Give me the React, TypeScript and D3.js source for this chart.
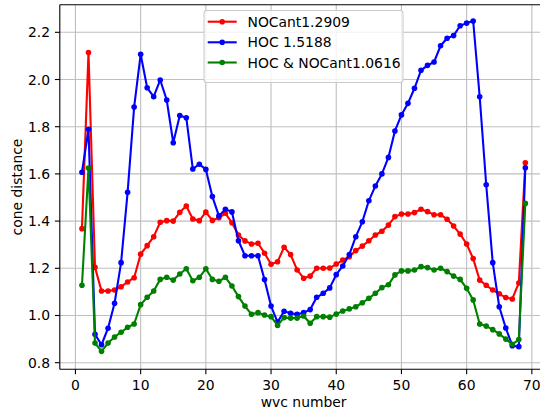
import React from "react";
import * as d3 from "d3";

const wvc: number[] = d3.range(1, 70);

const noCant: number[] = [
  1.368, 2.114, 1.204, 1.104, 1.104, 1.108, 1.122, 1.142, 1.16, 1.26,
  1.296, 1.334, 1.395, 1.402, 1.4, 1.437, 1.464, 1.409, 1.402, 1.438,
  1.403, 1.414, 1.433, 1.393, 1.341, 1.316, 1.303, 1.306, 1.264, 1.217,
  1.228, 1.289, 1.258, 1.193, 1.158, 1.167, 1.2, 1.2, 1.201, 1.218,
  1.235, 1.249, 1.275, 1.294, 1.317, 1.341, 1.357, 1.383, 1.419, 1.43,
  1.43, 1.436, 1.45, 1.44, 1.427, 1.427, 1.408, 1.379, 1.345, 1.303,
  1.241, 1.15, 1.128, 1.108, 1.092, 1.076, 1.07, 1.138, 1.647,
];

const hoc: number[] = [
  1.607, 1.789, 0.92, 0.876, 0.946, 1.052, 1.224, 1.522, 1.883, 2.107,
  1.965, 1.927, 1.998, 1.913, 1.732, 1.847, 1.838, 1.621, 1.641, 1.619,
  1.504, 1.422, 1.45, 1.439, 1.317, 1.253, 1.253, 1.253, 1.152, 1.04,
  0.972, 1.018, 1.009, 1.005, 1.012, 1.025, 1.077, 1.094, 1.117, 1.173,
  1.21, 1.258, 1.334, 1.397, 1.486, 1.549, 1.6, 1.67, 1.782, 1.85,
  1.899, 1.963, 2.039, 2.06, 2.074, 2.143, 2.175, 2.186, 2.228, 2.239,
  2.248, 1.927, 1.554, 1.224, 1.037, 0.947, 0.872, 0.868, 1.626,
];

const hocNoCant: number[] = [
  1.128, 1.625, 0.883, 0.848, 0.883, 0.909, 0.929, 0.95, 0.964, 1.046,
  1.077, 1.104, 1.153, 1.162, 1.15, 1.176, 1.198, 1.147, 1.162, 1.198,
  1.153, 1.145, 1.162, 1.125, 1.08, 1.04, 1.005, 1.012, 1.002, 0.995,
  0.958, 0.991, 0.989, 0.989, 0.998, 0.967, 0.995, 0.995, 0.993, 1.006,
  1.019, 1.028, 1.037, 1.054, 1.073, 1.094, 1.118, 1.13, 1.172, 1.189,
  1.189, 1.193, 1.207, 1.203, 1.193, 1.2, 1.186, 1.167, 1.153, 1.115,
  1.066, 0.964, 0.955, 0.94, 0.922, 0.9, 0.878, 0.898, 1.475,
];

const seriesNames: string[] = ["NOCant1.2909", "HOC 1.5188", "HOC & NOCant1.0616"];
const seriesColors: string[] = ["#ff0000", "#0000ff", "#008000"];
const xTicks: number[] = [0, 10, 20, 30, 40, 50, 60, 70];
const yTicks: number[] = [0.8, 1.0, 1.2, 1.4, 1.6, 1.8, 2.0, 2.2];

const W = 540;
const H = 415;
const left = 59.8;
const right = 547.5;
const top = 4.7;
const bottom = 369.3;
const FONT = "'DejaVu Sans', sans-serif";
const FS = 13.9;

export default function App() {
  const x = d3.scaleLinear().domain([-2.4, 72.4]).range([left, right]);
  const y = d3.scaleLinear().domain([0.772, 2.317]).range([bottom, top]);
  const line = d3
    .line<[number, number]>()
    .x((d) => x(d[0]))
    .y((d) => y(d[1]));
  const all = [noCant, hoc, hocNoCant];

  const legX = 204;
  const legY = 10.5;
  const legW = 199;
  const legH = 72;
  const rowY = [21.7, 42.3, 62.5];

  return (
    <svg
      width={W}
      height={H}
      style={{ position: "fixed", left: 0, top: 0, background: "#fff" }}
      fontFamily={FONT}
    >
      <rect x={0} y={0} width={W} height={H} fill="#fff" />
      <defs>
        <clipPath id="plot">
          <rect x={left} y={top} width={right - left} height={bottom - top} />
        </clipPath>
      </defs>
      {/* grid */}
      <g stroke="#b0b0b0" strokeWidth={1.1} opacity={0.8}>
        {xTicks.map((t) => (
          <line key={"gx" + t} x1={x(t)} x2={x(t)} y1={top} y2={bottom} />
        ))}
        {yTicks.map((t) => (
          <line key={"gy" + t} x1={left} x2={right} y1={y(t)} y2={y(t)} />
        ))}
      </g>
      {/* series */}
      <g clipPath="url(#plot)">
        {all.map((vals, si) => {
          const pts: [number, number][] = wvc.map((w, i) => [w, vals[i]]);
          return (
            <g key={"s" + si}>
              <path
                d={line(pts) || ""}
                fill="none"
                stroke={seriesColors[si]}
                strokeWidth={2.1}
                strokeLinejoin="round"
              />
              {pts.map((p, i) => (
                <circle
                  key={i}
                  cx={x(p[0])}
                  cy={y(p[1])}
                  r={2.8}
                  fill={seriesColors[si]}
                />
              ))}
            </g>
          );
        })}
      </g>
      {/* spines */}
      <g stroke="#000" strokeWidth={1.1} fill="none">
        <line x1={left} x2={left} y1={top} y2={bottom} />
        <line x1={left} x2={right} y1={top} y2={top} />
        <line x1={left} x2={right} y1={bottom} y2={bottom} />
        <line x1={right} x2={right} y1={top} y2={bottom} />
      </g>
      {/* x ticks */}
      <g>
        {xTicks.map((t) => (
          <g key={"xt" + t}>
            <line x1={x(t)} x2={x(t)} y1={bottom} y2={bottom + 4.9} stroke="#000" strokeWidth={1.1} />
            <text x={x(t)} y={389.5} textAnchor="middle" fontSize={FS} fill="#000">
              {t}
            </text>
          </g>
        ))}
      </g>
      {/* y ticks */}
      <g>
        {yTicks.map((t) => (
          <g key={"yt" + t}>
            <line x1={left - 4.9} x2={left} y1={y(t)} y2={y(t)} stroke="#000" strokeWidth={1.1} />
            <text
              x={left - 9.8}
              y={y(t)}
              dy="0.36em"
              textAnchor="end"
              fontSize={FS}
              fill="#000"
            >
              {t.toFixed(1)}
            </text>
          </g>
        ))}
      </g>
      {/* axis labels */}
      <text x={(left + right) / 2} y={407} textAnchor="middle" fontSize={FS} fill="#000">
        wvc number
      </text>
      <text
        transform={`translate(22,${(top + bottom) / 2}) rotate(-90)`}
        textAnchor="middle"
        fontSize={FS}
        fill="#000"
      >
        cone distance
      </text>
      {/* legend */}
      <g>
        <rect
          x={legX}
          y={legY}
          width={legW}
          height={legH}
          rx={2.8}
          fill="#fff"
          fillOpacity={0.8}
          stroke="#cccccc"
          strokeWidth={1.1}
        />
        {seriesNames.map((n, i) => (
          <g key={"l" + i}>
            <line
              x1={207.7}
              x2={236.7}
              y1={rowY[i]}
              y2={rowY[i]}
              stroke={seriesColors[i]}
              strokeWidth={2.1}
            />
            <circle cx={222.2} cy={rowY[i]} r={2.8} fill={seriesColors[i]} />
            <text x={247.5} y={rowY[i]} dy="0.36em" fontSize={FS} fill="#000">
              {n}
            </text>
          </g>
        ))}
      </g>
    </svg>
  );
}
